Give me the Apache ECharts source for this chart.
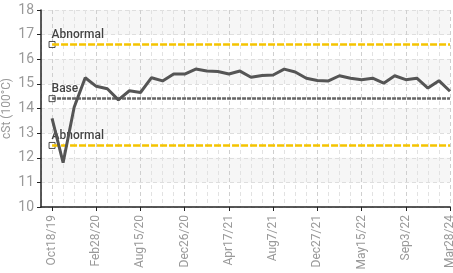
<!DOCTYPE html>
<html>
<head>
<meta charset="utf-8">
<script src="https://cdn.jsdelivr.net/npm/echarts@6/dist/echarts.min.js"></script>
<style>
  html, body { margin: 0; padding: 0; background: #fff; }
  #chart { width: 453px; height: 273px; }
</style>
</head>
<body>
<div id="chart"></div>
<script>
const dates = [
  'Oct18/19', 'Nov20/19', 'Dec19/19', 'Jan24/20', 'Feb28/20', 'Apr8/20', 'May22/20', 'Jul2/20',
  'Aug15/20', 'Sep18/20', 'Oct23/20', 'Nov20/20', 'Dec26/20', 'Jan29/21', 'Feb26/21', 'Mar23/21',
  'Apr17/21', 'May14/21', 'Jun10/21', 'Jul9/21', 'Aug7/21', 'Sep4/21', 'Oct8/21', 'Nov12/21',
  'Dec27/21', 'Jan28/22', 'Mar4/22', 'Apr8/22', 'May15/22', 'Jun11/22', 'Jul9/22', 'Aug6/22',
  'Sep3/22', 'Jan14/23', 'Jun3/23', 'Nov18/23', 'Mar28/24'
];

const viscosity = [
  13.6, 11.8, 14.05, 15.25, 14.9, 14.8, 14.35, 14.72,
  14.65, 15.25, 15.12, 15.4, 15.4, 15.6, 15.52, 15.5,
  15.4, 15.52, 15.27, 15.34, 15.36, 15.6, 15.48, 15.23,
  15.14, 15.12, 15.33, 15.23, 15.17, 15.23, 15.03, 15.33,
  15.17, 15.23, 14.83, 15.13, 14.7
];

const limitNames = ['Abnormal', 'Base', 'Abnormal'];
const limitValues = [16.6, 14.4, 12.5];
const limitColors = ['#f5c400', '#666666', '#f5c400'];

const yTicks = { min: 10, max: 18, step: 1 };

// leading blank category keeps the first sample one step right of the y axis
const cats = [''].concat(dates);
const lineData = ['-'].concat(viscosity);
const isMajor = (i) => i % 4 === 1;
const font = "Roboto, 'Liberation Sans', sans-serif";

const myChart = echarts.init(document.getElementById('chart'));

const option = {
  animation: false,
  grid: { left: 41, right: 3, top: 10, bottom: 66, containLabel: false, outerBoundsMode: 'none' },
  xAxis: [
    {
      type: 'category',
      data: cats,
      boundaryGap: false,
      axisLine: { lineStyle: { color: '#222', width: 1.5 } },
      axisTick: { interval: (i) => isMajor(i), length: 4, lineStyle: { color: '#222' } },
      axisLabel: {
        interval: (i) => isMajor(i),
        rotate: 90,
        color: '#999',
        fontFamily: font,
        fontSize: 12,
        margin: 8
      },
      splitLine: { show: true, interval: 0, lineStyle: { color: '#e2e2e2', type: [4, 3] } }
    },
    {
      type: 'category',
      data: cats,
      boundaryGap: false,
      position: 'bottom',
      axisLine: { show: false },
      axisTick: { show: false },
      axisLabel: { show: false },
      splitLine: { show: true, interval: (i) => isMajor(i), lineStyle: { color: '#cfcfcf', type: [4, 3] } }
    }
  ],
  yAxis: {
    type: 'value',
    min: yTicks.min,
    max: yTicks.max,
    interval: yTicks.step,
    name: 'cSt (100°C)',
    nameLocation: 'middle',
    nameGap: 28,
    nameMoveOverlap: false,
    nameTextStyle: { color: '#999', fontFamily: font, fontSize: 12 },
    axisLine: { show: true, lineStyle: { color: '#222', width: 1.5 } },
    axisTick: { show: true, length: 4, lineStyle: { color: '#222' } },
    axisLabel: { color: '#999', fontFamily: font, fontSize: 14, margin: 7 },
    splitLine: { lineStyle: { color: '#dedede', type: [4, 3] } },
    splitArea: { show: true, areaStyle: { color: ['rgba(255,255,255,0)', '#f6f6f6'] } }
  },
  series: [
    {
      type: 'line',
      data: lineData,
      symbol: 'none',
      lineStyle: { color: '#555', width: 3 },
      z: 5,
      markLine: {
        silent: true,
        symbol: ['none', 'none'],
        label: { show: false },
        data: limitValues.map((v, i) => [
          {
            coord: [1, v],
            lineStyle: { color: limitColors[i], width: 2.5, type: i === 1 ? [4, 1] : [7, 2] }
          },
          { coord: [cats.length - 1, v] }
        ])
      }
    },
    {
      type: 'scatter',
      data: limitValues.map((v, i) => ({ name: limitNames[i], value: [1, v] })),
      symbol: 'rect',
      symbolSize: 6,
      itemStyle: { color: '#fff', borderColor: '#222', borderWidth: 1 },
      label: {
        show: true,
        formatter: '{b}',
        position: [3, -12],
        color: '#111',
        fontFamily: font,
        fontSize: 12,
        fontWeight: 500,
        textBorderColor: 'rgba(255,255,255,0.8)',
        textBorderWidth: 1.5
      },
      z: 4,
      silent: true
    }
  ]
};

option && myChart.setOption(option);
</script>
</body>
</html>
